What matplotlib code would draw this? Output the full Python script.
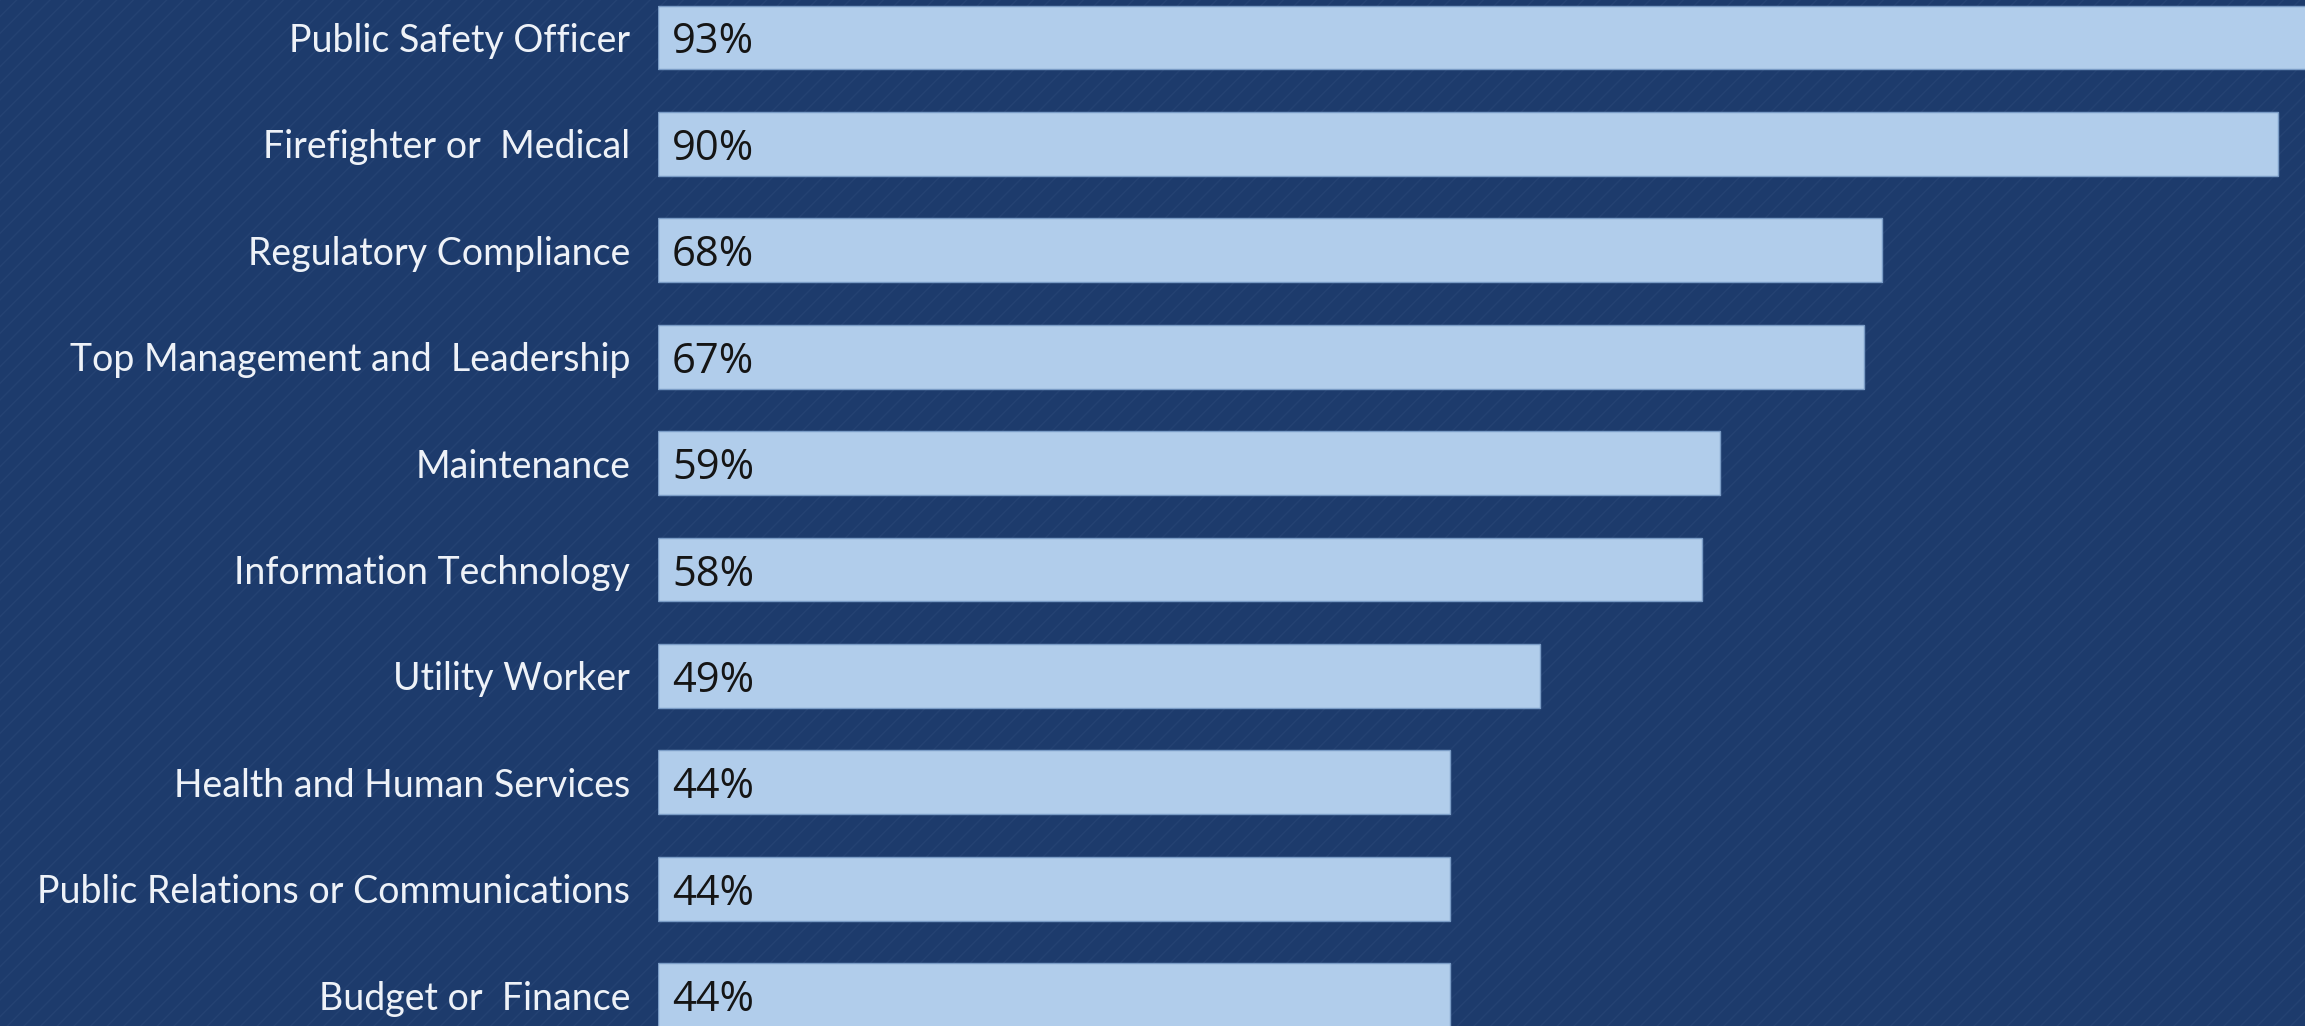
import matplotlib
matplotlib.use("Agg")
import matplotlib.pyplot as plt
from matplotlib.patches import Rectangle

# Share of respondents by job function
categories = [
    "Public Safety Officer",
    "Firefighter or  Medical",
    "Regulatory Compliance",
    "Top Management and  Leadership",
    "Maintenance",
    "Information Technology",
    "Utility Worker",
    "Health and Human Services",
    "Public Relations or Communications",
    "Budget or  Finance",
]
values = [93, 90, 68, 67, 59, 58, 49, 44, 44, 44]
value_labels = [f"{v}%" for v in values]

BG = "#1d3b6c"
BAR = "#b1cdeb"
BAR_EDGE = "#7a9cc6"
LABEL_COLOR = "#eef2f8"
VALUE_COLOR = "#151515"

W, H, DPI = 2305, 1026, 100
plt.rcParams["hatch.linewidth"] = 1.0
fig = plt.figure(figsize=(W / DPI, H / DPI), dpi=DPI)
fig.patch.set_facecolor(BG)

# faint diagonal texture over the background
tex = Rectangle((0, 0), 1, 1, transform=fig.transFigure,
                facecolor="none", edgecolor=(0.55, 0.65, 0.8, 0.07),
                hatch="//", linewidth=0)
tex.set_zorder(-5)
fig.patches.append(tex)

ax = fig.add_axes([658 / W, 0, 1 - 658 / W, 1])
ax.set_facecolor("none")
ax.set_zorder(1)

y = list(range(len(categories)))
ax.barh(y, values, height=0.6, color=BAR, edgecolor=BAR_EDGE, linewidth=1.0, zorder=2)

ax.set_xlim(0, (W - 658) / 18.0)
ax.set_ylim(9.29, -0.352)

ax.set_yticks(y)
ax.set_yticklabels(categories, fontsize=27, color=LABEL_COLOR,
                   family=["Lato", "DejaVu Sans"])
ax.tick_params(axis="y", length=0, pad=20)
ax.set_xticks([])
for s in ax.spines.values():
    s.set_visible(False)

for yi, lab in zip(y, value_labels):
    ax.annotate(lab, xy=(0, yi), xytext=(14, -5), textcoords="offset pixels",
                ha="left", va="center", fontsize=30, color=VALUE_COLOR,
                family=["Open Sans", "DejaVu Sans"], zorder=3)

fig.savefig("out.png", dpi=DPI, facecolor=BG)
